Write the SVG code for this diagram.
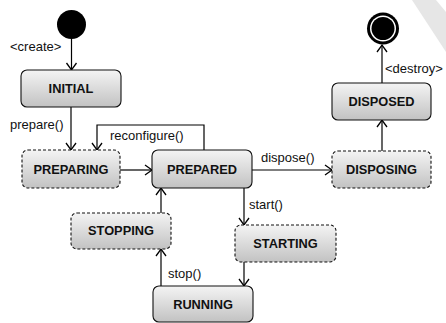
<svg xmlns="http://www.w3.org/2000/svg" width="446" height="323" viewBox="0 0 446 323">
<defs>
<linearGradient id="g" x1="0" y1="0" x2="0" y2="1">
<stop offset="0" stop-color="#f4f4f4"/>
<stop offset="1" stop-color="#c2c2c2"/>
</linearGradient>
<marker id="arr" markerUnits="userSpaceOnUse" markerWidth="14" markerHeight="14" refX="8" refY="6" orient="auto">
<path d="M1,1 L8,6 L1,11" fill="none" stroke="#000" stroke-width="1.3"/>
</marker>
</defs>
<style>
.box{fill:url(#g);stroke:#111;stroke-width:1.1}
.dash{stroke-dasharray:3,2}
.t{font-family:"Liberation Sans",Arial,sans-serif;font-weight:bold;font-size:12.8px;fill:#111;text-anchor:middle}
.l{font-family:"Liberation Sans",Arial,sans-serif;font-size:13px;fill:#111}
.c{fill:none;stroke:#000;stroke-width:1.2;marker-end:url(#arr)}
</style>
<rect width="446" height="323" fill="#fff"/>
<polygon points="412,0 436,0 446,12 446,52" fill="#e6e6e6"/>
<g id="start"><circle cx="71.5" cy="24.5" r="14.5" fill="#000"/></g>
<g id="end"><circle cx="383" cy="28.5" r="16" fill="#000"/><circle cx="383" cy="28.5" r="13" fill="#fff"/><circle cx="383" cy="28.5" r="11.5" fill="#000"/></g>
<g id="connectors">
<path class="c" d="M71.5,39 V70"/>
<path class="c" d="M71,107 V150"/>
<path class="c" d="M204,150 V125 H97 V150"/>
<path class="c" d="M120,170 H152"/>
<path class="c" d="M252,170 H332"/>
<path class="c" d="M382,151 V120"/>
<path class="c" d="M382,83 V45"/>
<path class="c" d="M244,188 V225"/>
<path class="c" d="M244,262 V286"/>
<path class="c" d="M161,286 V249"/>
<path class="c" d="M161,213 V188"/>
<text class="l" x="10" y="51">&lt;create&gt;</text>
<text class="l" x="10" y="129">prepare()</text>
<text class="l" x="110" y="140">reconfigure()</text>
<text class="l" x="261" y="162">dispose()</text>
<text class="l" x="385" y="73">&lt;destroy&gt;</text>
<text class="l" x="249" y="209">start()</text>
<text class="l" x="168" y="278">stop()</text>
</g>
<g id="initial"><rect class="box" x="21" y="70" width="100" height="37" rx="6"/><text class="t" x="71" y="93">INITIAL</text></g>
<g id="preparing"><rect class="box dash" x="22" y="150" width="98" height="38" rx="6"/><text class="t" x="71" y="174">PREPARING</text></g>
<g id="prepared"><rect class="box" x="152" y="150" width="100" height="38" rx="6"/><text class="t" x="202" y="174">PREPARED</text></g>
<g id="disposing"><rect class="box dash" x="332" y="151" width="99" height="37" rx="6"/><text class="t" x="381.5" y="174">DISPOSING</text></g>
<g id="disposed"><rect class="box" x="332" y="83" width="99" height="37" rx="6"/><text class="t" x="381.5" y="106">DISPOSED</text></g>
<g id="stopping"><rect class="box dash" x="71" y="213" width="100" height="36" rx="6"/><text class="t" x="121" y="235">STOPPING</text></g>
<g id="starting"><rect class="box dash" x="235" y="225" width="101" height="37" rx="6"/><text class="t" x="285.5" y="248">STARTING</text></g>
<g id="running"><rect class="box" x="153" y="286" width="100" height="36" rx="6"/><text class="t" x="203" y="309">RUNNING</text></g>
</svg>
